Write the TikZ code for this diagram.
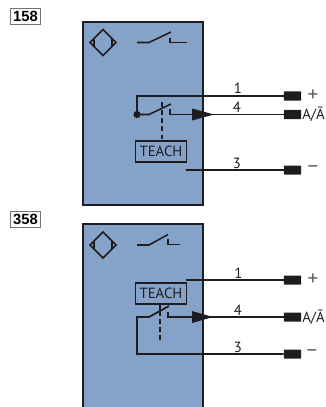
\documentclass[tikz,border=0pt]{standalone}
\usepackage{fontspec}
\setmainfont{PT Sans}
\newfontfamily\tagfont{Liberation Sans}
\usepackage{xcolor}
\usetikzlibrary{calc}
\definecolor{bodyblue}{RGB}{133,163,200}
\definecolor{wireblack}{RGB}{30,28,30}
\tikzset{
  wire/.style={line width=1.25pt,draw=wireblack},
  thinwire/.style={line width=1.1pt,draw=wireblack},
  housing/.style={line width=1.25pt,draw=wireblack},
  terminal/.style={fill=wireblack,rounded corners=0.3pt,minimum width=0.43cm,minimum height=0.225cm,inner sep=0pt},
  teachbox/.style={draw=wireblack,line width=1.25pt,minimum width=1.28cm,minimum height=0.51cm,inner sep=0pt,font=\fontsize{10.5}{10}\selectfont,text=wireblack},
  pinlabel/.style={font=\fontsize{10.5}{10}\selectfont,text=wireblack,inner sep=0pt},
  signlabel/.style={font=\fontsize{10.5}{10}\selectfont,text=wireblack,inner sep=0pt},
  bigsign/.style={font=\fontsize{15}{15}\selectfont,text=wireblack!70,inner sep=0pt},
  tagbox/.style={draw=black!55,line width=0.7pt,minimum width=0.77cm,minimum height=0.38cm,inner sep=0pt,font=\tagfont\bfseries\fontsize{10.5}{10}\selectfont}
}
\begin{document}
\begin{tikzpicture}[x=0.025cm,y=-0.025cm]
\useasboundingbox (0,0) rectangle (325,407);
% upper sensor
\fill[bodyblue](83,22) rectangle (203,205);
\draw[housing](83,22) rectangle (203,205);
\node[tagbox] (tagA) at (25.5,16.5){158};
\draw[thinwire](103,29.5)--(116,42.5)--(103,55.5)--(90,42.5)--cycle;
\draw[thinwire](94,38.5)--(94,46.5);
\draw[thinwire](112,38.5)--(112,46.5);
\draw[thinwire](137,42.5)--(149,42.5)--(171,32);
\draw[thinwire](170,38)--(170,42.5)--(187,42.5);

\node[teachbox] (teachA) at (161,151.5){TEACH};
\node[terminal] (termAa) at (292.5,96){};
\node[terminal] (termAb) at (292.5,114.5){};
\node[terminal] (termAc) at (292.5,170){};
\coordinate (dotA) at (137,114.5);
\coordinate (contactA) at (170,109);
\coordinate (startA) at (186,170);
\fill[wireblack](dotA) circle (3.6);
\draw[wire](dotA)--(137,96)--(termAa.west);
\draw[thinwire](dotA)--(149,114.5)--(171,104);
\draw[wire](contactA)|-(termAb.west);
\fill[wireblack](192,108.5)--(214,114.5)--(192,120.5)--cycle;
\draw[wire,dash pattern=on 3.4pt off 2.4pt](162,102)--(162,141);
\draw[wire](startA)--(termAc.west);
\node[pinlabel] at (238,88.5){1};
\node[pinlabel] at (237,107){4};
\node[pinlabel] at (237,163){3};
\node[bigsign] at (313,96){+};
\node[signlabel] at (313.5,114.5){A/Ā};
\node[bigsign] at (313,170){−};

% lower sensor
\fill[bodyblue](83,224) rectangle (203,407);
\draw[housing](83,407)--(83,224)--(203,224)--(203,407);
\node[tagbox] (tagB) at (25.5,219.5){358};
\draw[thinwire](103,232)--(116,245)--(103,258)--(90,245)--cycle;
\draw[thinwire](94,241)--(94,249);
\draw[thinwire](112,241)--(112,249);
\draw[thinwire](137,245)--(149,245)--(168,234.5);
\draw[thinwire](168,239)--(168,244.5)--(180,244.5);

\node[teachbox] (teachB) at (161,293.5){TEACH};
\node[terminal] (termBa) at (292.5,280){};
\node[terminal] (termBb) at (292.5,317){};
\node[terminal] (termBc) at (292.5,354){};
\coordinate (startB) at (186,280);
\coordinate (contactB) at (168,312);
\draw[wire](startB)--(termBa.west);
\draw[wire](termBc.west)--(137,354)--(137,317)--(149,317)--(169,306);
\draw[wire](contactB)|-(termBb.west);
\fill[wireblack](192,311)--(213,317)--(192,323)--cycle;
\draw[thinwire](160,304)--(160,310);
\draw[wire,dash pattern=on 3.4pt off 2.4pt](160,311)--(160,343);
\node[pinlabel] at (238.5,273){1};
\node[pinlabel] at (238,310){4};
\node[pinlabel] at (238,347){3};
\node[bigsign] at (313,280){+};
\node[signlabel] at (313.5,317){A/Ā};
\node[bigsign] at (312,354){−};
\end{tikzpicture}
\end{document}
